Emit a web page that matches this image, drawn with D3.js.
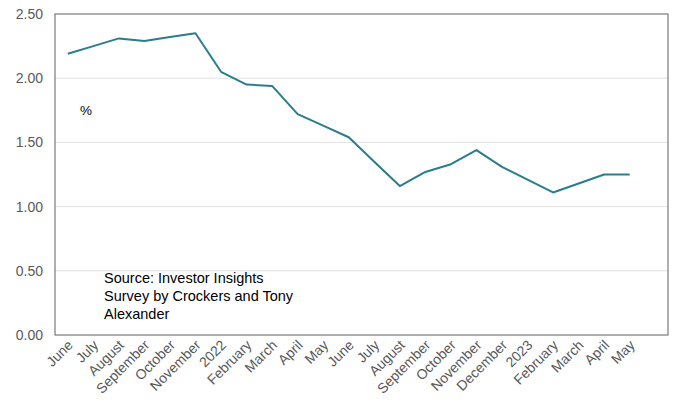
<!DOCTYPE html>
<html><head><meta charset="utf-8">
<script src="https://cdn.jsdelivr.net/npm/d3@7"></script>
<style>body{margin:0;background:#fff}svg{display:block;font-family:"Liberation Sans",Arial,sans-serif}</style>
</head><body>
<svg id="c" width="677" height="401"></svg>
<script>
const categories = ["June","July","August","September","October","November","2022","February","March","April","May","June","July","August","September","October","November","December","2023","February","March","April","May"];
const values = [2.19,2.25,2.31,2.29,2.32,2.35,2.05,1.95,1.94,1.72,1.63,1.54,1.35,1.16,1.27,1.33,1.44,1.31,1.21,1.11,1.18,1.25,1.25];
const yTicks = [0,0.5,1,1.5,2,2.5];
const unitLabel = "%";
const sourceLines = ["Source: Investor Insights","Survey by Crockers and Tony","Alexander"];

const svg = d3.select("#c");
const m = {l:55, r:668, t:14, b:335};
const slots = d3.range(categories.length + 1);
const x = d3.scaleBand().domain(slots).range([m.l, m.r]);
const y = d3.scaleLinear().domain([0,2.5]).range([m.b, m.t]);

// gridlines
svg.append("g").selectAll("line").data(yTicks.filter(v=>v>0 && v<2.5)).join("line")
  .attr("x1", m.l).attr("x2", m.r).attr("y1", d=>y(d)).attr("y2", d=>y(d))
  .attr("stroke", "#e0e0e0").attr("stroke-width", 1);

// frame
svg.append("rect").attr("x", m.l).attr("y", m.t).attr("width", m.r-m.l).attr("height", m.b-m.t)
  .attr("fill","none").attr("stroke","#7a7a7a").attr("stroke-width",1.2);

// y axis
const ya = svg.append("g").attr("transform", `translate(${m.l},0)`)
  .call(d3.axisLeft(y).tickValues(yTicks).tickFormat(d3.format(".2f")).tickSize(0).tickPadding(12));
ya.select(".domain").remove();
ya.selectAll("text").attr("fill","#595959").attr("font-size", 14).attr("font-family","Liberation Sans, Arial, sans-serif");

// x axis
const xa = svg.append("g").attr("transform", `translate(0,${m.b})`)
  .call(d3.axisBottom(x).tickValues(d3.range(categories.length)).tickFormat(i=>categories[i]).tickSize(0));
xa.select(".domain").remove();
xa.selectAll("text").attr("fill","#595959").attr("font-size", 14).attr("font-family","Liberation Sans, Arial, sans-serif")
  .attr("text-anchor","end").attr("dy", null).attr("y", 0)
  .attr("transform", "translate(6,11) rotate(-45)");

// line
const line = d3.line().x((d,i)=>x(i)+x.bandwidth()/2).y(d=>y(d));
svg.append("path").datum(values).attr("d", line).attr("fill","none")
  .attr("stroke","#2a7d8a").attr("stroke-width",2).attr("stroke-linejoin","round");

// labels
svg.append("text").attr("x", 80).attr("y", 115).attr("font-size", 13.5).attr("fill","#000").text(unitLabel);
svg.append("g").selectAll("text").data(sourceLines).join("text")
  .attr("x", 104).attr("y", (d,i)=>283 + i*17.8).attr("font-size", 14.5).attr("fill","#000").text(d=>d);
</script>
</body></html>
